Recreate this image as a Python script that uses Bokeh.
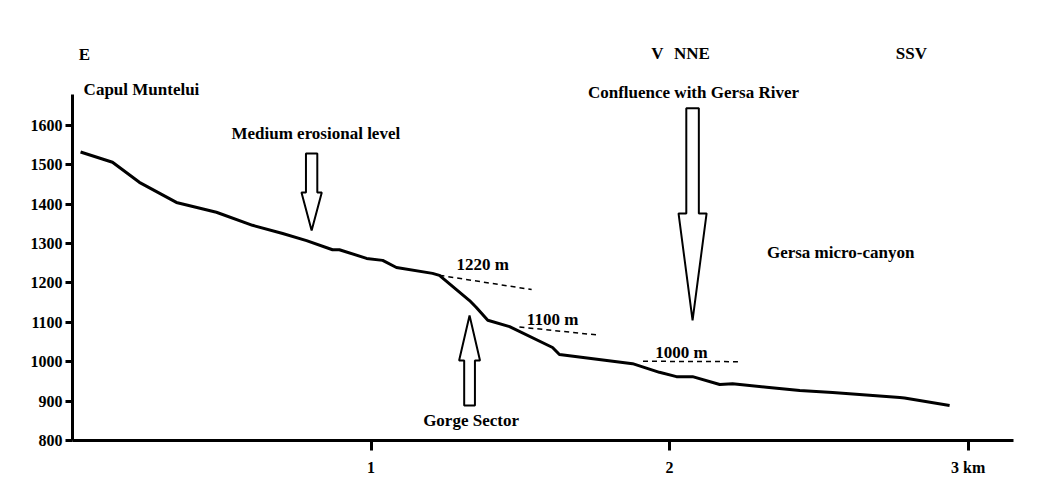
from bokeh.plotting import figure
from bokeh.models import FixedTicker, Range1d
from bokeh.core.properties import value
from bokeh.embed import file_html
from bokeh.resources import INLINE

# ---- profile data (distance in km, elevation in m) ----
distance_km = [0.027, 0.134, 0.224, 0.348, 0.482, 0.603, 0.704, 0.784, 0.871, 0.894,
               0.985, 1.039, 1.085, 1.206, 1.229, 1.330, 1.352, 1.391, 1.464, 1.608,
               1.631, 1.876, 1.966, 2.023, 2.077, 2.168, 2.211, 2.325, 2.436, 2.546,
               2.771, 2.787, 2.938]
elevation_m = [1532, 1506, 1455, 1404, 1379, 1346, 1325, 1307, 1284, 1284,
               1262, 1257, 1239, 1224, 1219, 1155, 1138, 1105, 1089, 1036,
               1018, 995, 973, 962, 962, 942, 944, 935, 927, 922,
               909, 908, 889]

# ---- erosional levels (dashed) ----
level_names = ["1220 m", "1100 m", "1000 m"]
level_x0 = [1.229, 1.497, 1.911]
level_x1 = [1.538, 1.754, 2.229]
level_y0 = [1219, 1088, 1001]
level_y1 = [1183, 1068, 1000]
level_label_x = [1.374, 1.608, 2.040]
level_label_y = [1247, 1108, 1022]

# ---- axis ticks ----
y_ticks = [800, 900, 1000, 1100, 1200, 1300, 1400, 1500, 1600]
x_ticks = [1, 2, 3]
x_tick_labels = {1: "1", 2: "2", 3: "3 km"}

# ---- annotation texts ----
note_texts = ["E", "Capul Muntelui", "Medium erosional level", "V", "NNE", "SSV",
              "Confluence with Gersa River", "Gersa micro-canyon", "Gorge Sector"]
note_x = [0.040, 0.231, 0.815, 1.959, 2.075, 2.810, 2.080, 2.573, 1.335]
note_y = [1780, 1691, 1578, 1783, 1783, 1783, 1682, 1278, 851]

# ---- arrows: centre x, tail y, head-base y, tip y, shaft half width, head half width ----
arrow_x = [0.801, 1.330, 2.077]
arrow_tail = [1528, 889, 1643]
arrow_base = [1429, 1003, 1376]
arrow_tip = [1333, 1117, 1105]
arrow_shaft_hw = [0.019, 0.018, 0.021]
arrow_head_hw = [0.034, 0.035, 0.047]


def arrow_poly(xc, yt, yb, yp, sw, hw):
    xs = [xc - sw, xc + sw, xc + sw, xc + hw, xc, xc - hw, xc - sw]
    ys = [yt, yt, yb, yb, yp, yb, yb]
    return xs, ys


arrows_xs, arrows_ys = [], []
for i in range(len(arrow_x)):
    xs, ys = arrow_poly(arrow_x[i], arrow_tail[i], arrow_base[i], arrow_tip[i],
                        arrow_shaft_hw[i], arrow_head_hw[i])
    arrows_xs.append(xs)
    arrows_ys.append(ys)

FONT = "Liberation Serif"

p = figure(width=1032, height=482, output_backend="svg", toolbar_location=None,
           x_range=Range1d(0, 3.152), y_range=Range1d(800, 1896),
           min_border_left=72, min_border_right=19, min_border_top=8, min_border_bottom=42)
p.outline_line_color = None
p.xgrid.visible = False
p.ygrid.visible = False
p.background_fill_color = "white"
p.border_fill_color = "white"

# axes
xa = p.xaxis[0]
xa.ticker = FixedTicker(ticks=x_ticks)
xa.major_label_overrides = x_tick_labels
xa.bounds = (0, 3.152)
xa.axis_line_width = 3
xa.axis_line_color = "black"
xa.major_tick_line_width = 3
xa.major_tick_line_color = "black"
xa.major_tick_in = 0
xa.major_tick_out = 10
xa.minor_tick_line_color = None
xa.major_label_standoff = 8
xa.major_label_text_font = FONT
xa.major_label_text_font_style = "bold"
xa.major_label_text_font_size = "16px"
xa.major_label_text_color = "black"

ya = p.yaxis[0]
ya.ticker = FixedTicker(ticks=y_ticks)
ya.bounds = (800, 1678)
ya.axis_line_width = 3
ya.axis_line_color = "black"
ya.major_tick_line_width = 3
ya.major_tick_line_color = "black"
ya.major_tick_in = 0
ya.major_tick_out = 7
ya.minor_tick_line_color = None
ya.major_label_standoff = 3
ya.major_label_text_font = FONT
ya.major_label_text_font_style = "bold"
ya.major_label_text_font_size = "16px"
ya.major_label_text_color = "black"

# profile line
p.line(distance_km, elevation_m, line_color="black", line_width=3, line_join="round")

# dashed levels
p.segment(x0=level_x0, y0=level_y0, x1=level_x1, y1=level_y1,
          line_color="black", line_width=1.5, line_dash="5 4")
p.text(x=level_label_x, y=level_label_y, text=level_names,
       text_font=value(FONT), text_font_style="bold", text_font_size="17px",
       text_align="center", text_baseline="middle", text_color="black")

# arrows
p.patches(arrows_xs, arrows_ys, fill_color="white", line_color="black", line_width=2)

# notes
p.text(x=note_x, y=note_y, text=note_texts,
       text_font=value(FONT), text_font_style="bold", text_font_size="17px",
       text_align="center", text_baseline="middle", text_color="black")

open("out.html", "w").write(file_html(p, INLINE))
